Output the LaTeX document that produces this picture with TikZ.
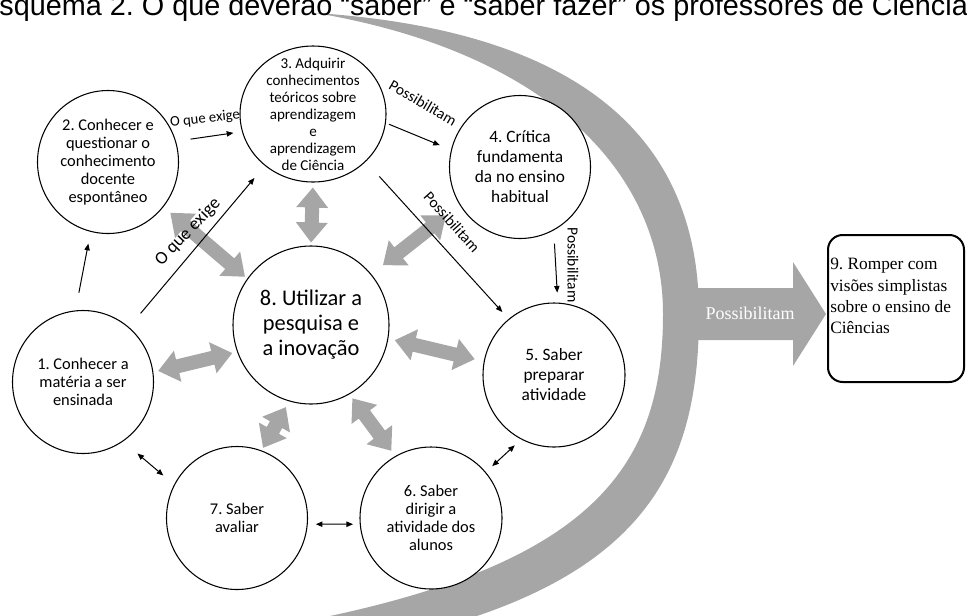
\documentclass[tikz,border=0pt]{standalone}
\usepackage{fontspec}
\setmainfont{Carlito}
\newfontfamily\arialf{Liberation Sans}
\newfontfamily\timesf{Liberation Serif}
\usetikzlibrary{calc,shapes.geometric,arrows.meta}
\frenchspacing
\newcommand\garrow[4]{%
  \coordinate (ga) at ($(#1)!#3!(#2)$);
  \coordinate (gb) at ($(#2)!#4!(#1)$);
  \fill[grayband] (ga) -- ($(ga)!15pt!(gb)!12pt!90:(gb)$) -- ($(ga)!15pt!(gb)!5.25pt!90:(gb)$)
    -- ($(gb)!15pt!(ga)!5.25pt!-90:(ga)$) -- ($(gb)!15pt!(ga)!12pt!-90:(ga)$) -- (gb)
    -- ($(gb)!15pt!(ga)!12pt!90:(ga)$) -- ($(gb)!15pt!(ga)!5.25pt!90:(ga)$)
    -- ($(ga)!15pt!(gb)!5.25pt!-90:(gb)$) -- ($(ga)!15pt!(gb)!12pt!-90:(gb)$) -- cycle;}
\begin{document}
\begin{tikzpicture}[x=0.75pt,y=-0.75pt,
  grayband/.style={fill=black!35},
  circ/.style={ellipse, draw=black, line width=0.8pt, fill=white, inner sep=0pt},
  ctxt/.style={align=center, inner sep=0pt},
  fa/.style={font=\fontsize{12.3}{13.5}\selectfont},
  fb/.style={font=\fontsize{11.3}{12.75}\selectfont},
  fc/.style={font=\fontsize{13}{15}\selectfont},
  fd/.style={font=\fontsize{16.8}{18.75}\selectfont},
  thinarr/.style={line width=0.75pt, -{Triangle[length=5pt,width=4pt]}},
  dblthin/.style={line width=0.75pt, {Triangle[length=5pt,width=4pt]}-{Triangle[length=5pt,width=4pt]}},
  lbl/.style={inner sep=0pt, font=\fontsize{11.6}{13}\selectfont},
  box9/.style={rectangle, draw=black, line width=1.5pt, rounded corners=11pt, fill=white, inner sep=0pt}]
\useasboundingbox (0,0) rectangle (967,615);
\clip (0,0) rectangle (967,615);
% crescent
\fill[grayband] (316,13) .. controls (570,30) and (699,130) .. (699,314)
  .. controls (699,490) and (630,605) .. (310,655) -- (270,650) -- (290,624)
  .. controls (590,568) and (663,470) .. (663,314)
  .. controls (663,170) and (545,52) .. (316,13) -- cycle;
% big arrow
\fill[grayband] (678,288) -- (793,288) -- (793,262) -- (826,314) -- (793,366) -- (793,340) -- (678,340) -- cycle;
\node[inner sep=0pt, text=white, font=\timesf\fontsize{13.5}{15}\selectfont] (bigl) at (750,313) {Possibilitam};
% nodes
\node[circ, minimum width=105.75pt, minimum height=107.25pt,
  label={[ctxt,fa]center:{1. Conhecer a\\matéria a ser\\ensinada}}] (n1) at (83,382) {};
\node[circ, minimum width=105.75pt, minimum height=107.25pt,
  label={[ctxt,fa]center:{2. Conhecer e\\questionar o\\conhecimento\\docente\\espontâneo}}] (n2) at (108,162) {};
\node[circ, minimum width=109.5pt, minimum height=102pt,
  label={[ctxt,fb]center:{3. Adquirir\\conhecimentos\\teóricos sobre\\aprendizagem\\e\\aprendizagem\\de Ciência}}] (n3) at (313,114) {};
\node[circ, minimum width=105.75pt, minimum height=107.25pt,
  label={[ctxt,fc]center:{4. Crítica\\fundamenta\\da no ensino\\habitual}}] (n4) at (520,167) {};
\node[circ, minimum width=106.5pt, minimum height=108pt,
  label={[ctxt,fc]center:{5. Saber\\preparar\\atividade}}] (n5) at (554,375) {};
\node[circ, minimum width=106.5pt, minimum height=106.5pt,
  label={[ctxt,fa]center:{6. Saber\\dirigir a\\atividade dos\\alunos}}] (n6) at (431,518) {};
\node[circ, minimum width=105.75pt, minimum height=107.25pt,
  label={[ctxt,fa]center:{7. Saber\\avaliar}}] (n7) at (237,518) {};
\node[circ, minimum width=117pt, minimum height=118.5pt,
  label={[ctxt,fd]center:{8. Utilizar a\\pesquisa e\\a inovação}}] (n8) at (311,325) {};
% gray double arrows
\garrow{n1.8}{n8.-160}{3.75pt}{3.75pt}
\garrow{n2.-39}{n8.144}{6.75pt}{2.25pt}
\garrow{n3.-90}{n8.90}{3.75pt}{2.25pt}
\garrow{n8.40}{n4.-148}{11pt}{13pt}
\garrow{n8.-10}{n5.169}{5pt}{7pt}
\garrow{n7.70}{n8.-106}{2.25pt}{5pt}
\garrow{n8.-61}{n6.120}{3.75pt}{5pt}
% thin arrows
\draw[thinarr, shorten <=13.5pt, shorten >=9pt] (n1.96) -- (n2.-104);
\draw[thinarr, shorten <=13.5pt, shorten >=12pt] (n1.50) -- (n3.-133);
\draw[thinarr, shorten <=11pt, shorten >=6.5pt] (n2.17) -- (n3.-166);
\draw[thinarr, shorten <=2.5pt, shorten >=9pt] (n3.-7) -- (n4.166);
\draw[thinarr, shorten <=15pt, shorten >=7pt] (n3.-42) -- (n5.129);
\draw[thinarr, shorten <=10pt, shorten >=7.5pt] (n4.-62) -- (n5.87);
\draw[dblthin, shorten <=6.5pt, shorten >=6.5pt] (n6.40) -- (n5.-117);
\draw[dblthin, shorten <=6pt, shorten >=5pt] (n7.-5) -- (n6.-175);
\draw[dblthin, shorten <=14pt, shorten >=10.5pt] (n1.-56) -- (n7.152);
% labels
\node[lbl, font=\fontsize{11}{13}\selectfont, rotate=6] (l23) at (205,119) {O que exige};
\node[lbl, font=\fontsize{13.5}{15}\selectfont, rotate=46] (l13) at (188,232) {O que exige};
\node[lbl, rotate=-30] (l34) at (423,103) {Possibilitam};
\node[lbl, rotate=-48] (l35) at (452,222) {Possibilitam};
\node[lbl, rotate=-90] (l45) at (573,265) {Possibilitam};
% node 9
\node[box9, minimum width=102pt, minimum height=110.25pt] (n9) at (896,308.5) {};
\node[anchor=north west, inner sep=0pt, align=left, font=\timesf\fontsize{13}{16}\selectfont] (n9t)
  at ($(n9.north west)+(3,24)$) {9. Romper com\\visões simplistas\\sobre o ensino de\\Ciências};
% title
\node[anchor=base west, inner sep=0pt, font=\arialf\fontsize{21.6}{26}\selectfont] (title) at (-20,15)
  {Esquema 2. O que deverão “saber” e “saber fazer” os professores de Ciências};
\end{tikzpicture}
\end{document}
